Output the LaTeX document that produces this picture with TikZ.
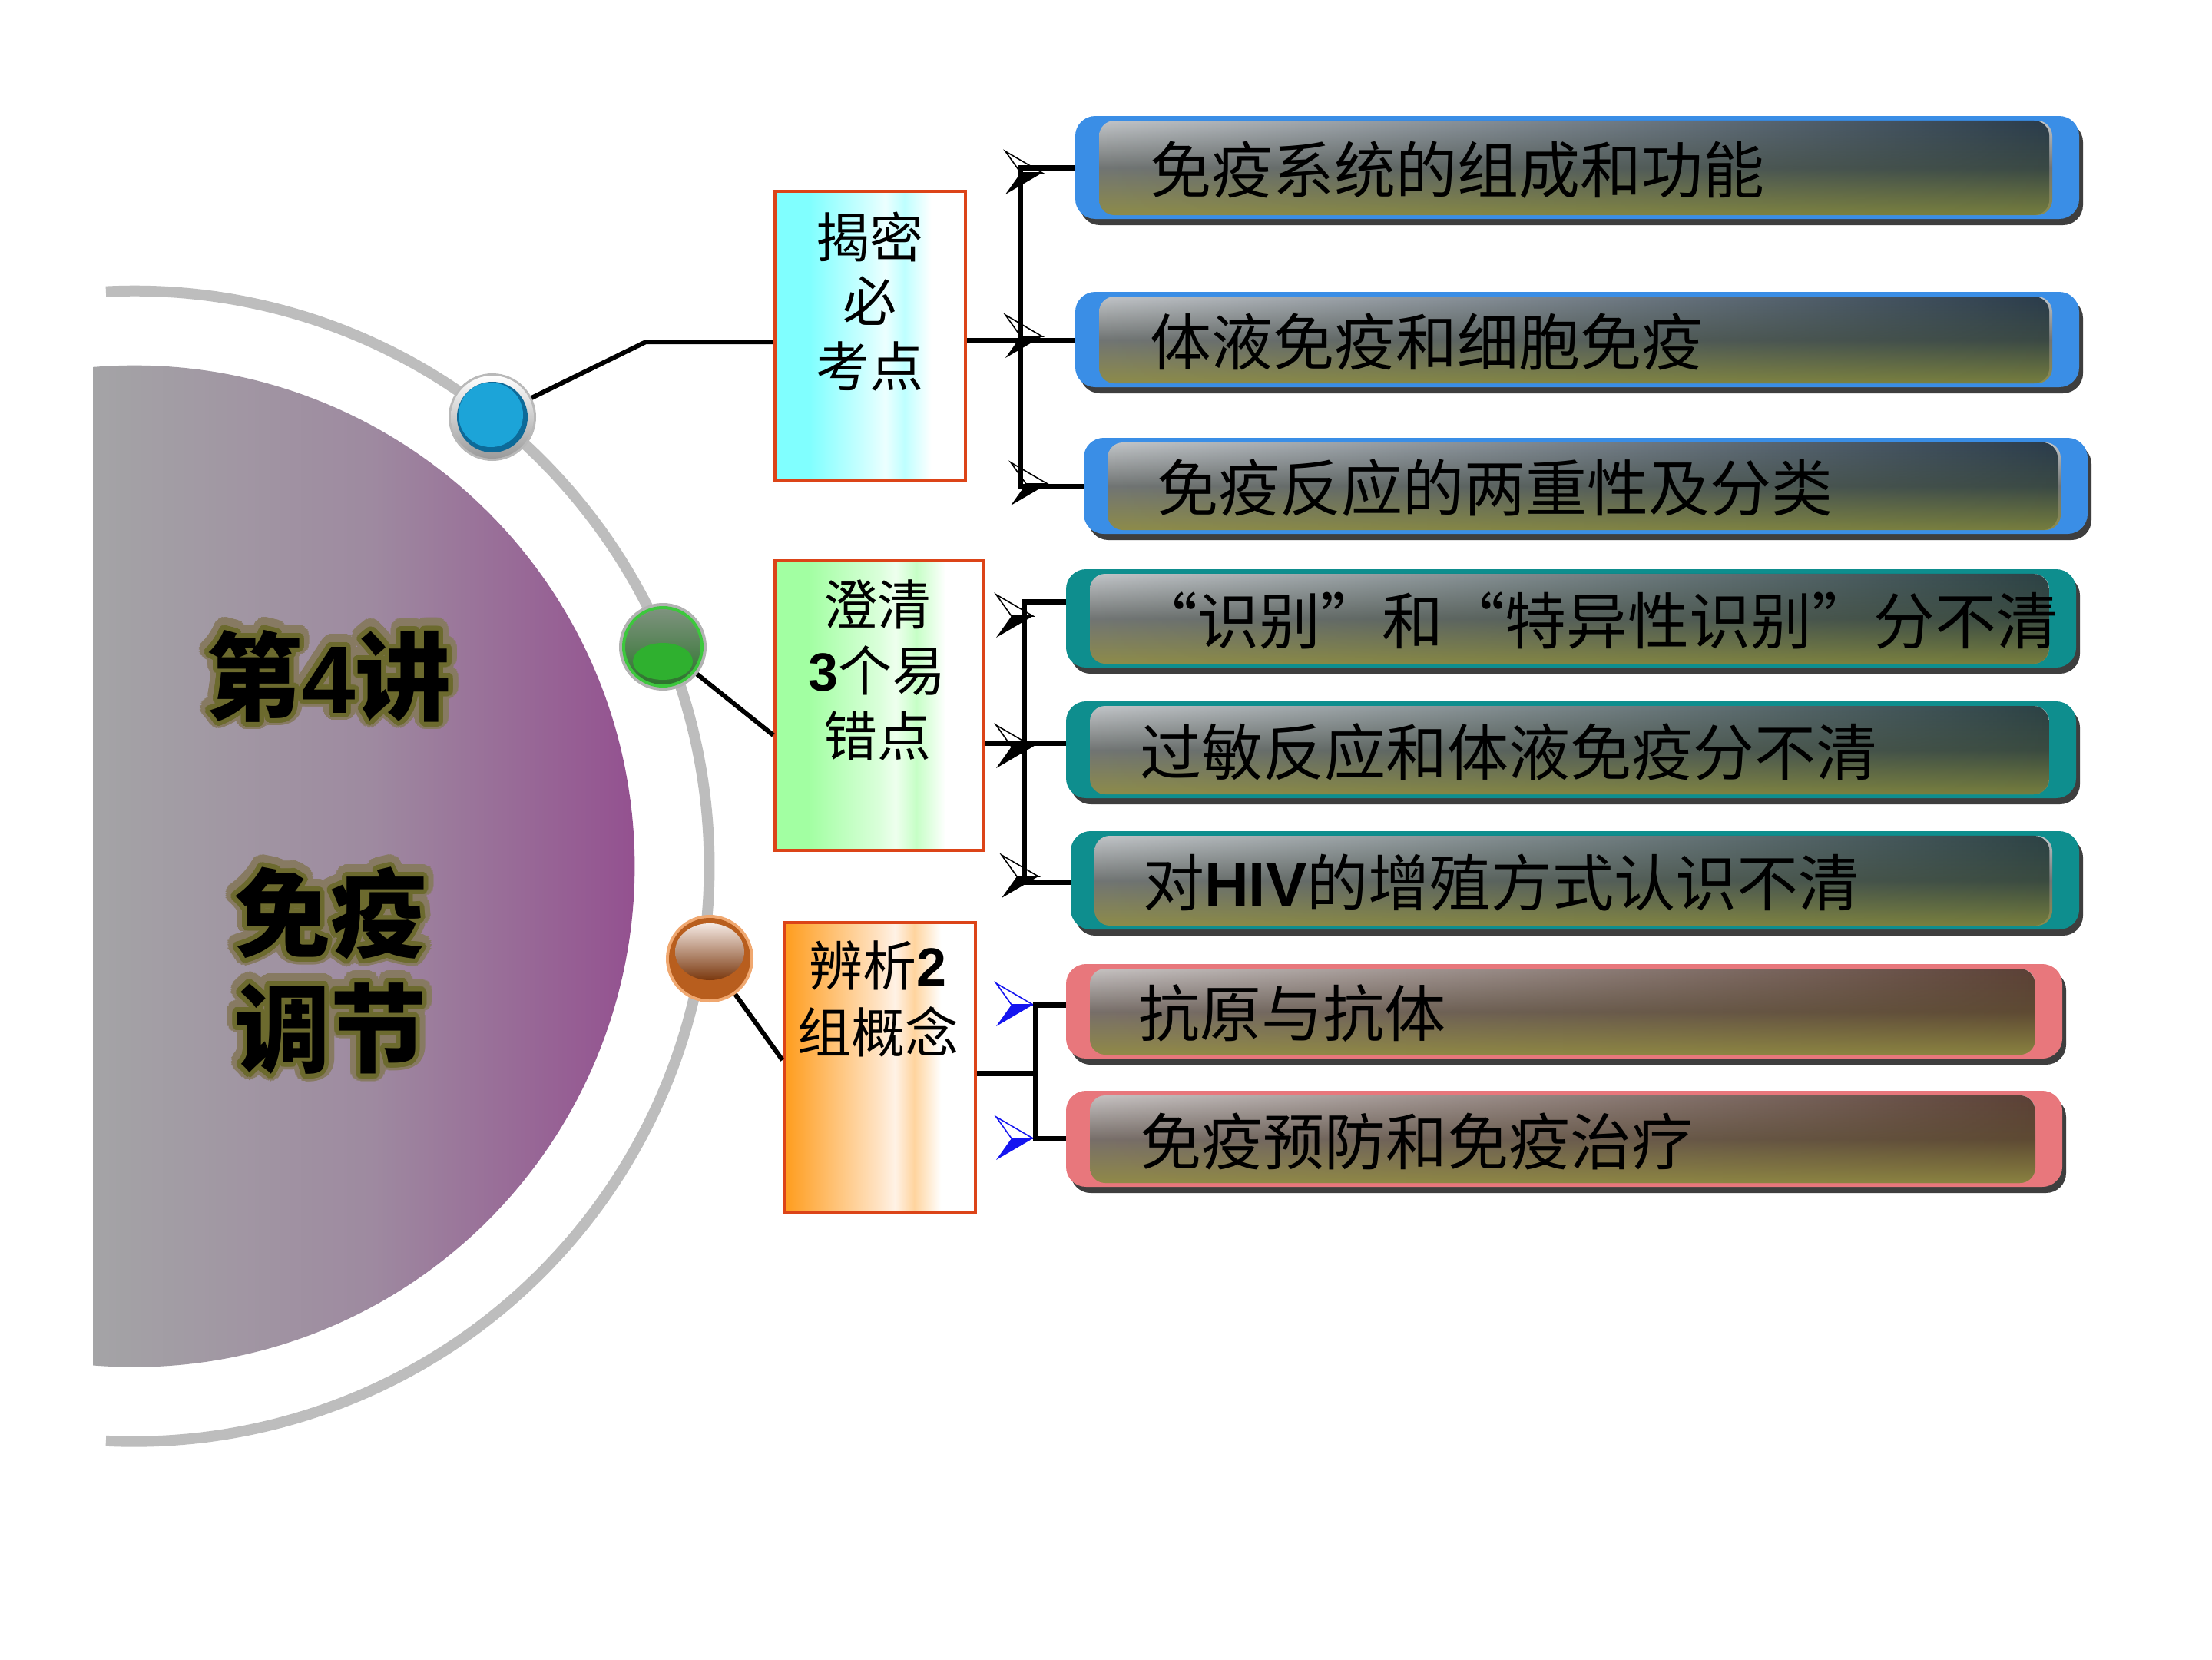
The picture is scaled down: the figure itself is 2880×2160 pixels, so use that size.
\documentclass[tikz,border=0pt]{standalone}
\usepackage{fontspec}
\usepackage{contour}
\usetikzlibrary{calc,fadings}
\setmainfont{Noto Sans CJK SC}
\newfontfamily\cjkfw{Noto Sans CJK SC}[CharacterWidth=Full]
\newfontfamily\lat{Liberation Sans}
\contournumber{32}

\definecolor{arcgray}{HTML}{BDBDBD}
\definecolor{purL}{HTML}{A4A4A6}
\definecolor{purM}{HTML}{9E8AA0}
\definecolor{purR}{HTML}{934E8F}
\definecolor{glowin}{HTML}{6C6A2E}
\definecolor{glowout}{HTML}{877A62}
\definecolor{boxline}{HTML}{DC4418}
\definecolor{cyA}{HTML}{80FFFF}
\definecolor{cyB}{HTML}{D4FFFF}
\definecolor{cyC}{HTML}{ECFFFF}
\definecolor{cyD}{HTML}{BEFFFF}
\definecolor{grA}{HTML}{A2FFA2}
\definecolor{grB}{HTML}{DAFFDA}
\definecolor{grC}{HTML}{EEFFEE}
\definecolor{grD}{HTML}{C6FFC6}
\definecolor{orA}{HTML}{FF9C1C}
\definecolor{orB}{HTML}{FFE4C6}
\definecolor{orC}{HTML}{FFF2E6}
\definecolor{orD}{HTML}{FFD49E}
\definecolor{brdblue}{HTML}{3A8EE6}
\definecolor{brdteal}{HTML}{0E8E8E}
\definecolor{brdpink}{HTML}{E8777C}
\definecolor{shadowc}{HTML}{3E3E3E}
\definecolor{plTop}{HTML}{C2C5C8}
\definecolor{plMid}{HTML}{717574}
\definecolor{plBot}{HTML}{8E8C4A}
\definecolor{pkTop}{HTML}{C6C2C2}
\definecolor{pkMid}{HTML}{786F6A}
\definecolor{pkBot}{HTML}{918A48}
\definecolor{buTop}{HTML}{293B4B}
\definecolor{buMid}{HTML}{3A4944}
\definecolor{buBot}{HTML}{767E3E}
\definecolor{teTop}{HTML}{2B4145}
\definecolor{teMid}{HTML}{3A4B40}
\definecolor{teBot}{HTML}{767E3E}
\definecolor{piTop}{HTML}{5B4036}
\definecolor{piMid}{HTML}{5E4A33}
\definecolor{piBot}{HTML}{8A8240}
\definecolor{bluedark}{HTML}{0D6A99}
\definecolor{bluemain}{HTML}{1CA4D8}
\definecolor{ringgray}{HTML}{9A9A9A}
\definecolor{greenrim}{HTML}{3CC83C}
\definecolor{greentop}{HTML}{7E927E}
\definecolor{greenmid}{HTML}{2C742C}
\definecolor{greenlow}{HTML}{2FB02F}
\definecolor{brownrim}{HTML}{F0A870}
\definecolor{brownmain}{HTML}{B85E1E}
\definecolor{brownhi}{HTML}{F4E8E2}
\definecolor{browndark}{HTML}{7A380E}
\definecolor{arrowblue}{HTML}{1414F0}

\pgfdeclarehorizontalshading{boxcyan}{100bp}{color(0bp)=(cyA); color(25bp)=(cyA); color(34bp)=(cyA); color(50bp)=(cyB); color(54bp)=(cyC); color(59bp)=(cyD); color(66bp)=(white); color(100bp)=(white)}
\pgfdeclarehorizontalshading{boxgreen}{100bp}{color(0bp)=(grA); color(25bp)=(grA); color(33bp)=(grA); color(50bp)=(grB); color(54bp)=(grC); color(59bp)=(grD); color(66bp)=(white); color(100bp)=(white)}
\pgfdeclarehorizontalshading{boxorange}{100bp}{color(0bp)=(orA); color(25bp)=(orA); color(50bp)=(orB); color(54bp)=(orC); color(59bp)=(orD); color(66bp)=(white); color(100bp)=(white)}

\tikzfading[name=pillfade, left color=transparent!100, middle color=transparent!25, right color=transparent!0]

\tikzset{
  conn/.style={line width=7, line join=miter},
  ballnode/.style={circle, inner sep=0, minimum size=110},
  box/.style={rectangle, draw=boxline, line width=4.5, inner sep=0, shade},
  boxtext/.style={inner sep=0, font=\fontsize{70}{80}\selectfont, text=black},
  pillnode/.style={rectangle, inner sep=0, draw=none},
  pilltext/.style={anchor=west, inner sep=0, font=\fontsize{80}{90}\selectfont, text=black},
  titlef/.style={inner sep=0, font=\fontsize{125}{140}\selectfont\bfseries},
  pb blue/.style={top color=plTop, bottom color=plBot, middle color=plMid},
  pb teal/.style={top color=plTop, bottom color=plBot, middle color=plMid},
  pb pink/.style={top color=pkTop, bottom color=pkBot, middle color=pkMid},
  pr blue/.style={top color=buTop, bottom color=buBot, middle color=buMid},
  pr teal/.style={top color=teTop, bottom color=teBot, middle color=teMid},
  pr pink/.style={top color=piTop, bottom color=piBot, middle color=piMid},
}

% name, x1, y1, x2, y2, group, text x, text
\newcommand\pill[8]{%
  \node[pillnode, minimum width={#4-#2}, minimum height={#5-#3}] (#1) at ({(#2+#4)/2},{(#3+#5)/2}) {};
  \fill[shadowc, rounded corners=26] (#2+6,#3+8) rectangle (#4+5,#5+8);
  \fill[brd#6, rounded corners=26] (#2,#3) rectangle (#4,#5);
  \shade[pb #6, rounded corners=20] (#2+31,#3+6) rectangle (#4-35,#5-5);
  \shade[pr #6, rounded corners=20, path fading=pillfade] (#2+31,#3+6) rectangle (#4-35,#5-5);
  \node[pilltext] (#1t) at (#7,{(#3+#5)/2+3}) {#8};
}
% tip coordinate, outline colour, fill colour
\newcommand\arrowhd[3]{%
  \filldraw[fill=white, draw=#2, line width=1.6, line join=miter] (#1) -- ++(-48,-28) -- ++(20,28) -- cycle;
  \fill[#3] (#1) -- ++(-48,28) -- ++(20,-28) -- cycle;
}

\begin{document}
\begin{tikzpicture}[x=1pt,y=-1pt]
\useasboundingbox (0,0) rectangle (2880,2160);
\fill[white] (0,0) rectangle (2880,2160);

% central half disc
\shade[left color=purL, right color=purR, middle color=purM]
  (121,477.9) arc[start angle=-94.7, end angle=94.7, radius=652] -- cycle;

% outer arc
\draw[arcgray, line width=14] (174.5,1127.7) ++(-92.8:749) arc[start angle=-92.8, end angle=92.8, radius=749];

% title with glow
\node[titlef, text=glowout] (t1o) at (428,883) {\contourlength{13pt}\contour{glowout}{第{\lat\bfseries 4}讲}};
\node[titlef, text=black] (t1) at (428,883) {\contourlength{6pt}\contour{glowin}{第{\lat\bfseries 4}讲}};
\node[titlef, text=glowout] (t2o) at (430,1192) {\contourlength{13pt}\contour{glowout}{免疫}};
\node[titlef, text=black] (t2) at (430,1192) {\contourlength{6pt}\contour{glowin}{免疫}};
\node[titlef, text=glowout] (t3o) at (430,1342) {\contourlength{13pt}\contour{glowout}{调节}};
\node[titlef, text=black] (t3) at (430,1342) {\contourlength{6pt}\contour{glowin}{调节}};

% balls (connection nodes)
\node[ballnode] (ball1) at (641,543) {};
\node[ballnode] (ball2) at (863,842) {};
\node[ballnode] (ball3) at (924,1248) {};

% boxes
\node[box, shading=boxcyan, minimum width=248, minimum height=376] (box1) at (1133,437) {};
\node[box, shading=boxgreen, minimum width=271, minimum height=377] (box2) at (1144.5,918.5) {};
\node[box, shading=boxorange, minimum width=249, minimum height=378] (box3) at (1145.5,1390) {};

\node[boxtext] (b1a) at (1132,308) {揭密};
\node[boxtext] (b1b) at (1132,392) {必};
\node[boxtext] (b1c) at (1132,477) {考点};
\node[boxtext] (b2a) at (1142,787) {澄清};
\node[boxtext] (b2b) at (1142,873) {{\lat\bfseries 3}个易};
\node[boxtext] (b2c) at (1142,958) {错点};
\node[boxtext] (b3a) at (1143,1257) {辨析{\lat\bfseries 2}};
\node[boxtext] (b3b) at (1143,1343) {组概念};

% pills
\pill{p1}{1400}{151}{2707}{285}{blue}{1497}{免疫系统的组成和功能}
\pill{p2}{1400}{380}{2707}{504}{blue}{1497}{体液免疫和细胞免疫}
\pill{p3}{1411}{570}{2718}{695}{blue}{1506}{免疫反应的两重性及分类}
\pill{p4}{1388}{741}{2703}{869}{teal}{1479}{{\cjkfw “}识别{\cjkfw ”}和{\cjkfw “}特异性识别{\cjkfw ”}分不清}
\pill{p5}{1388}{913}{2703}{1039}{teal}{1484}{过敏反应和体液免疫分不清}
\pill{p6}{1394}{1082}{2707}{1210}{teal}{1488}{对{\lat\bfseries HIV}的增殖方式认识不清}
\pill{p7}{1388}{1255}{2685}{1378}{pink}{1482}{抗原与抗体}
\pill{p8}{1388}{1420}{2685}{1545}{pink}{1484}{免疫预防和免疫治疗}

% arrowheads
\coordinate (a1) at (1357,225);
\coordinate (a2) at (1357,438);
\coordinate (a3) at (1364,630);
\coordinate (a4) at (1345,802);
\coordinate (a5) at (1345,972);
\coordinate (a6) at (1352,1141);
\coordinate (a7) at (1345,1308);
\coordinate (a8) at (1345,1482);
\arrowhd{a1}{black}{black}
\arrowhd{a2}{black}{black}
\arrowhd{a3}{black}{black}
\arrowhd{a4}{black}{black}
\arrowhd{a5}{black}{black}
\arrowhd{a6}{black}{black}
\arrowhd{a7}{arrowblue}{arrowblue}
\arrowhd{a8}{arrowblue}{arrowblue}

% connectors from balls to boxes
\coordinate (k1) at (841,445);
\coordinate (k2) at (0,957);
\coordinate (k3) at (0,1380);
\draw[conn, line width=6] (ball1) -- (k1) -- (k1 -| box1.west);
\draw[conn, line width=6] (ball2) -- (k2 -| box2.west);
\draw[conn, line width=6] (ball3) -- (k3 -| box3.west);

% group 1
\coordinate (g1a) at (1328,218);
\coordinate (g1b) at (1328,443);
\coordinate (g1c) at (1328,633);
\draw[conn] (g1a -| p1.west) -- (g1a) -- (g1c) -- (g1c -| p3.west);
\draw[conn] (g1b -| box1.east) -- (g1b -| p2.west);
% group 2
\coordinate (g2a) at (1333,783);
\coordinate (g2b) at (1333,967);
\coordinate (g2c) at (1333,1148);
\draw[conn] (g2a -| p4.west) -- (g2a) -- (g2c) -- (g2c -| p6.west);
\draw[conn] (g2b -| box2.east) -- (g2b -| p5.west);
% group 3
\coordinate (g3a) at (1348,1308);
\coordinate (g3b) at (1348,1397);
\coordinate (g3c) at (1348,1482);
\draw[conn] (g3a -| p7.west) -- (g3a) -- (g3c) -- (g3c -| p8.west);
\draw[conn] (g3b -| box3.east) -- (g3b);

% ball graphics
\fill[gray!55] (ball1.center) circle (57);
\shade[top color=white, bottom color=ringgray] (ball1.center) circle (54);
\fill[bluedark] (ball1.center) circle (46);
\fill[bluemain] ($(ball1.center)+(-2,-3)$) circle (42);

\fill[gray!60] (ball2.center) circle (57);
\fill[greenrim] (ball2.center) circle (53);
\shade[top color=greentop, bottom color=greenmid] (ball2.center) circle (49);
\fill[greenlow] ($(ball2.center)+(0,19)$) ellipse (39 and 24);

\fill[brownrim] (ball3.center) circle (57);
\fill[brownmain] (ball3.center) circle (53);
\shade[top color=brownhi, bottom color=browndark] ($(ball3.center)+(0,-9)$) ellipse (45 and 37);
\end{tikzpicture}
\end{document}
